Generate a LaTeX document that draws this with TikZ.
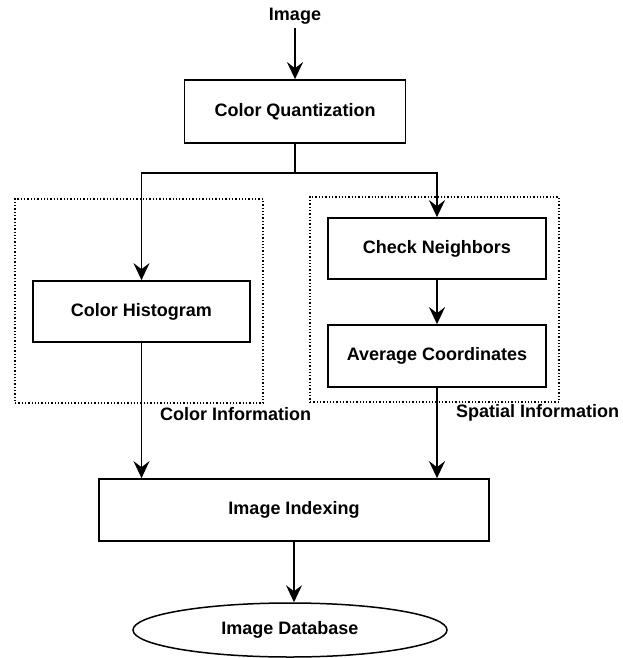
\documentclass[tikz,border=0pt]{standalone}
\usepackage{fontspec}
\setmainfont{Liberation Sans}
\usetikzlibrary{shapes.geometric, arrows.meta}
\tikzstyle{every node}=[font=\fontsize{18}{21}\selectfont\bfseries]
\tikzstyle{process} = [rectangle, minimum width=218pt, minimum height=62pt, inner sep=0pt, text centered, draw=black, line width=1.7pt]
\tikzstyle{database} = [ellipse, minimum width=314pt, minimum height=54pt, inner sep=0pt, text centered, draw=black, line width=1.5pt]
\tikzstyle{group} = [rectangle, inner sep=0pt, draw=black, dotted, line width=1.3pt]
\tikzstyle{info} = [anchor=west, inner sep=0pt]
\tikzstyle{arrow} = [line width=1.8pt,-{Stealth[length=17pt,width=16pt,inset=6pt]}]

\begin{document}
\begin{tikzpicture}[x=1pt, y=-1pt]
            \useasboundingbox (0,0) rectangle (623,658);
            % groups
            \node (colgrp) [group, minimum width=248pt, minimum height=204pt] at (139,301) {};
            \node (spagrp) [group, minimum width=249pt, minimum height=205pt] at (434.5,299.5) {};
            % steps
            \node (img) at (295,16) {Image};
            \node (cq) [process, minimum width=221pt, minimum height=63pt] at (295,111.5) {Color Quantization};
            \node (ch) [process, minimum width=217pt, minimum height=61pt] at (141.5,311.5) {Color Histogram};
            \node (cn) [process, minimum height=61pt] at (437,248.5) {Check Neighbors};
            \node (ac) [process] at (437,356) {Average Coordinates};
            \node (ii) [process, minimum width=390pt] at (294,510) {Image Indexing};
            \node (db) [database] at (290,630) {Image Database};
            \node (colinfo) [info] at (160,414) {Color Information};
            \node (spainfo) [info] at (456,413) {Spatial Information};
            \coordinate (split) at (295,173);
            % connectors
            \draw [arrow] (img) -- (cq);
            \draw [line width=1.8pt] (cq) -- (split);
            \draw [arrow] (split) -| (ch);
            \draw [arrow] (split) -| (cn);
            \draw [arrow] (cn) -- (ac);
            \draw [arrow] (ch) -- (ch |- ii.north);
            \draw [arrow] (ac) -- (ac |- ii.north);
            \draw [arrow] (ii.south) -- (ii.south |- db.north);
          \end{tikzpicture}
\end{document}
